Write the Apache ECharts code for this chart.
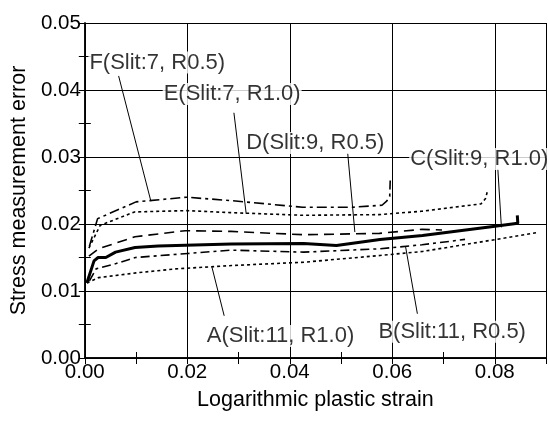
<!DOCTYPE html>
<html lang="en">
<head>
    <meta charset="UTF-8">
    <title>Stress measurement error</title>
    <script src="https://cdn.jsdelivr.net/npm/echarts@6/dist/echarts.min.js"></script>
    <style>
        body{ margin: 0; background: #fff; }
        #chart{ width: 549px; height: 421px; }
    </style>
</head>
<body>
<div id="chart"></div>
<script>
    // curves: [strain, error]
    var curveA = [[0.0004,0.0112],[0.0027,0.0120],[0.0100,0.0127],[0.0177,0.0133],[0.0287,0.0138],[0.0428,0.0143],[0.0576,0.0153],[0.0659,0.0159],[0.0819,0.0179],[0.0881,0.0187]];
    var curveB = [[0.0009,0.0115],[0.0022,0.0133],[0.0061,0.0141],[0.0099,0.0150],[0.0201,0.0156],[0.0286,0.0161],[0.0427,0.0158],[0.0575,0.0163],[0.0658,0.0169],[0.0742,0.0177]];
    var curveC = [[0.0004,0.0112],[0.0018,0.0145],[0.0026,0.0150],[0.0041,0.0150],[0.0060,0.0158],[0.0098,0.0165],[0.0143,0.0167],[0.0286,0.0170],[0.0427,0.0171],[0.0491,0.0168],[0.0576,0.0177],[0.0659,0.0183],[0.0793,0.0196],[0.0845,0.0201],[0.0844,0.0213]];
    var curveD = [[0.0008,0.0152],[0.0027,0.0163],[0.0098,0.0181],[0.0196,0.0190],[0.0285,0.0189],[0.0427,0.0184],[0.0575,0.0186],[0.0658,0.0192],[0.0697,0.0191]];
    var curveE = [[0.0008,0.0164],[0.0030,0.0198],[0.0097,0.0218],[0.0199,0.0220],[0.0284,0.0217],[0.0426,0.0213],[0.0574,0.0214],[0.0657,0.0219],[0.0773,0.0230],[0.0782,0.0238],[0.0786,0.0250]];
    var curveF = [[0.0009,0.0167],[0.0025,0.0208],[0.0100,0.0233],[0.0198,0.0240],[0.0284,0.0235],[0.0425,0.0225],[0.0522,0.0225],[0.0580,0.0228],[0.0589,0.0234],[0.0595,0.0241],[0.0596,0.0265]];

    // annotation text, where the text starts, and the leader line (text end -> curve)
    var noteNames = ['A(Slit:11, R1.0)','B(Slit:11, R0.5)','C(Slit:9, R1.0)','D(Slit:9, R0.5)','E(Slit:7, R1.0)','F(Slit:7, R0.5)'];
    var notePos = [[0.0236,0.0033],[0.0571,0.0039],[0.0633,0.0297],[0.0313,0.0321],[0.0152,0.0394],[0.0007,0.0441]];
    var leaderFrom = [[0.0272,0.0063],[0.0649,0.0066],[0.0806,0.0282],[0.0513,0.0306],[0.0291,0.0366],[0.0066,0.0421]];
    var leaderTo = [[0.0248,0.0136],[0.0626,0.0166],[0.0813,0.0195],[0.0527,0.0188],[0.0315,0.0215],[0.0129,0.0234]];

    var xTicks = [0, 0.02, 0.04, 0.06, 0.08];
    var yTicks = [0, 0.01, 0.02, 0.03, 0.04, 0.05];

    var font = "'Liberation Sans', Arial, sans-serif";

    function curve(data, width, dash){
        return {
            type: 'line', data: data, symbol: 'none', silent: true, z: 3,
            lineStyle: { color: '#000', width: width, type: dash }
        };
    }

    var series = [
        curve(curveA, 1.6, [3, 3]),
        curve(curveB, 1.6, [9, 4, 3, 4]),
        curve(curveC, 3, 'solid'),
        curve(curveD, 1.6, [10, 6]),
        curve(curveE, 1.6, [3, 3]),
        curve(curveF, 1.6, [10, 4, 3, 4])
    ];
    for (var i = 0; i < noteNames.length; i++) {
        series.push({
            type: 'line', data: [leaderFrom[i], leaderTo[i]], symbol: 'none', silent: true, z: 4,
            lineStyle: { color: '#000', width: 1 }
        });
    }
    series.push({
        type: 'scatter', symbolSize: 0, silent: true, z: 5,
        data: notePos.map(function (p, i) { return { name: noteNames[i], value: p }; }),
        label: {
            show: true, position: 'right', distance: 0,
            formatter: '{b}', color: '#000', fontSize: 22, fontFamily: font,
            backgroundColor: '#fff', padding: [0, 1]
        }
    });

    function fmt(list){
        return function (v) {
            for (var k = 0; k < list.length; k++) {
                if (Math.abs(list[k] - v) < 1e-9) return v.toFixed(2);
            }
            return '';
        };
    }

    var baseAxis = {
        type: 'value',
        axisLine: { show: true, lineStyle: { color: '#000', width: 1.5 } },
        axisTick: { show: true, inside: true, length: 6, lineStyle: { color: '#000' } },
        minorTick: { show: true, splitNumber: 2, length: 6, lineStyle: { color: '#000', width: 1 } },
        splitLine: { show: true, lineStyle: { color: '#000', width: 1 } }
    };

    var option = {
        animation: false,
        textStyle: { fontFamily: font },
        grid: { left: 80, right: 3, top: 23, bottom: 63 },
        xAxis: [
            Object.assign({}, baseAxis, {
                position: 'bottom', min: 0, max: 0.09, interval: 0.02,
                name: 'Logarithmic plastic strain', nameLocation: 'middle', nameGap: 31,
                nameTextStyle: { fontSize: 21.5, color: '#000', fontFamily: font },
                axisLabel: { color: '#000', fontSize: 20.5, margin: 4, fontFamily: font, formatter: fmt(xTicks) }
            }),
            Object.assign({}, baseAxis, {
                position: 'top', min: 0, max: 0.09, interval: 0.02,
                axisLabel: { show: false }, splitLine: { show: false }
            })
        ],
        yAxis: [
            Object.assign({}, baseAxis, {
                position: 'left', min: 0, max: 0.05, interval: 0.01,
                name: 'Stress measurement error', nameLocation: 'middle', nameGap: 49,
                nameTextStyle: { fontSize: 21.5, color: '#000', fontFamily: font },
                axisLabel: { color: '#000', fontSize: 20.5, margin: 4, fontFamily: font, formatter: fmt(yTicks) }
            }),
            Object.assign({}, baseAxis, {
                position: 'right', min: 0, max: 0.05, interval: 0.01,
                axisLabel: { show: false }, splitLine: { show: false }
            })
        ],
        series: series
    };

    var myChart = echarts.init(document.getElementById('chart'));
    myChart.setOption(option);
</script>
</body>
</html>
